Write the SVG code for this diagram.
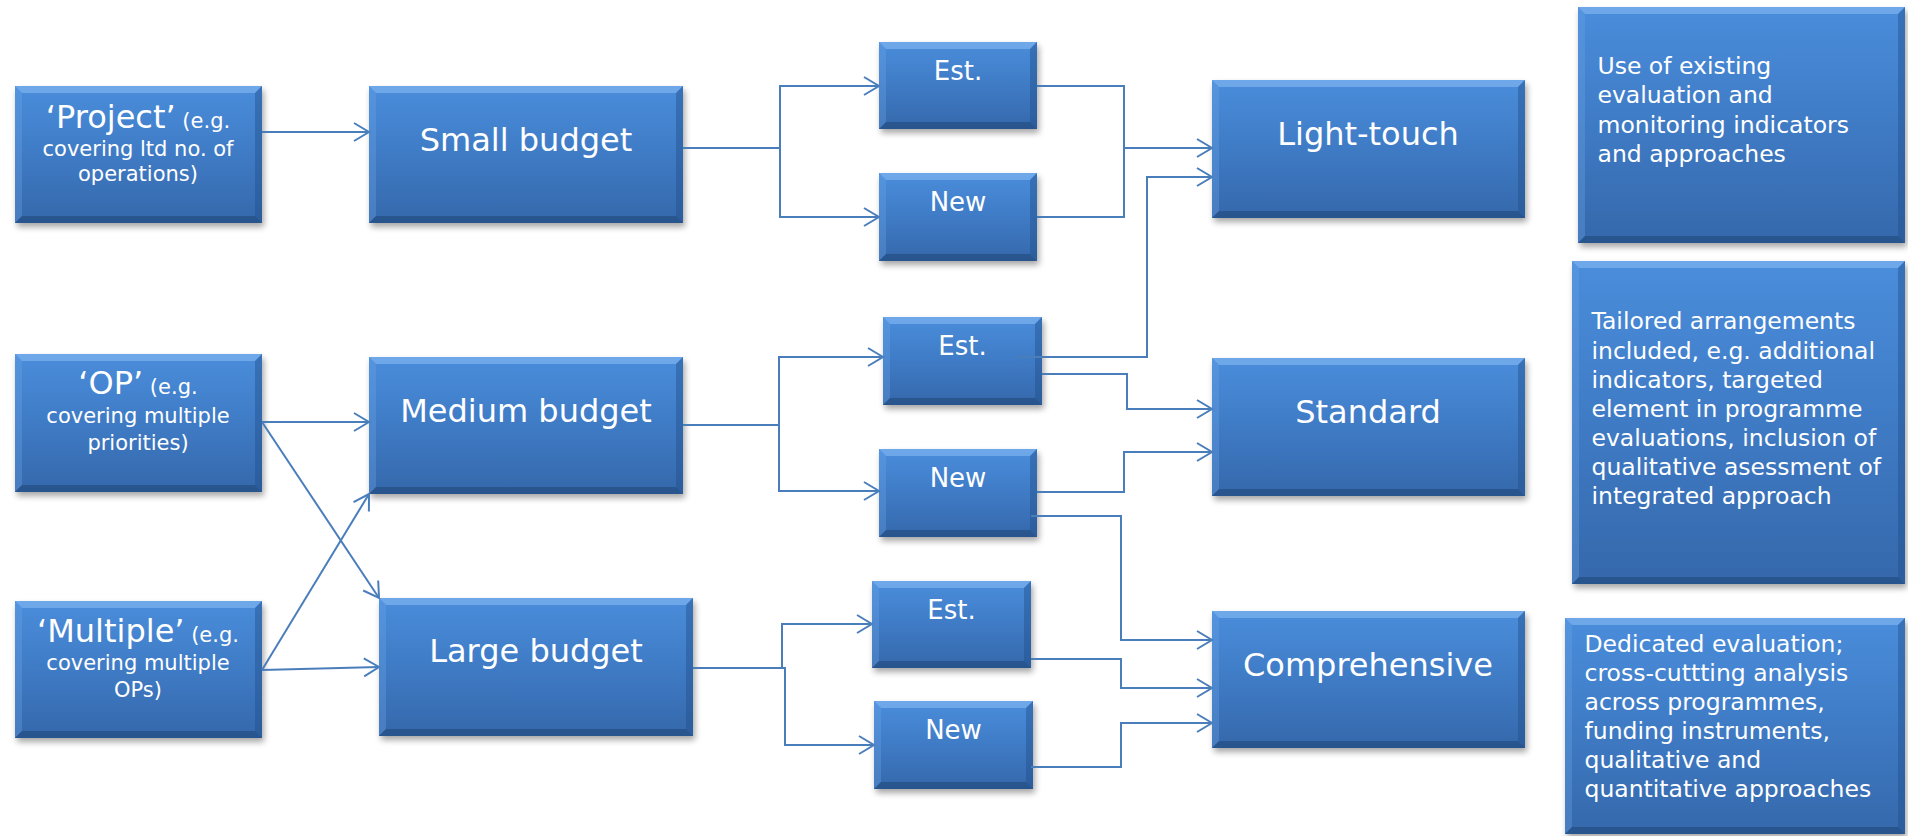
<svg xmlns="http://www.w3.org/2000/svg" width="1908" height="836" viewBox="0 0 1908 836">
<defs>
<linearGradient id="g" x1="0" y1="0" x2="0" y2="1">
<stop offset="0" stop-color="#4a8ddb"/>
<stop offset="0.5" stop-color="#3f7bc5"/>
<stop offset="1" stop-color="#3568ab"/>
</linearGradient>
<filter id="sh" x="-10%" y="-10%" width="120%" height="130%">
<feGaussianBlur stdDeviation="3"/>
</filter>
<marker id="ar" markerUnits="userSpaceOnUse" markerWidth="20" markerHeight="22" refX="16" refY="10" orient="auto">
<path d="M1,1 L16,10 L1,19" fill="none" stroke="#4a7ebb" stroke-width="2"/>
</marker>
</defs>
<style>
.s{fill:#000;opacity:.35;filter:url(#sh)}
.b{fill:url(#g)}
.t{fill:#8cc0f5;opacity:.55}
.l{fill:#6aa3e6;opacity:.35}
.r{fill:#224f8c;opacity:.45}
.m{fill:#1f4577;opacity:.55}
text{font-family:"DejaVu Sans",Verdana,"Liberation Sans",sans-serif;fill:#fff}
.big{font-size:32px;text-anchor:middle}
.sm{font-size:21px;text-anchor:middle}
.mid{font-size:26px;text-anchor:middle}
.desc{font-size:23.5px}
.c{fill:none;stroke:#4a7ebb;stroke-width:2}
.a{marker-end:url(#ar)}
</style>
<rect width="1908" height="836" fill="#fff"/>

<g id="project">
<rect class="s" x="17" y="90" width="247" height="137"/>
<rect class="b" x="15" y="86" width="247" height="137"/>
<polygon class="t" points="15,86 262,86 255,93 22,93"/>
<polygon class="l" points="15,86 22,93 22,216 15,223"/>
<polygon class="r" points="262,86 262,223 255,216 255,93"/>
<polygon class="m" points="15,223 22,216 255,216 262,223"/>
<text class="sm" x="138" y="128"><tspan font-size="32px">‘Project’</tspan> (e.g.</text>
<text class="sm" x="138" y="156">covering ltd no. of</text>
<text class="sm" x="138" y="181">operations)</text>
</g>

<g id="op">
<rect class="s" x="17" y="358" width="247" height="138"/>
<rect class="b" x="15" y="354" width="247" height="138"/>
<polygon class="t" points="15,354 262,354 255,361 22,361"/>
<polygon class="l" points="15,354 22,361 22,485 15,492"/>
<polygon class="r" points="262,354 262,492 255,485 255,361"/>
<polygon class="m" points="15,492 22,485 255,485 262,492"/>
<text class="sm" x="138" y="394"><tspan font-size="32px">‘OP’</tspan> (e.g.</text>
<text class="sm" x="138" y="423">covering multiple</text>
<text class="sm" x="138" y="450">priorities)</text>
</g>

<g id="multiple">
<rect class="s" x="17" y="605" width="247" height="137"/>
<rect class="b" x="15" y="601" width="247" height="137"/>
<polygon class="t" points="15,601 262,601 255,608 22,608"/>
<polygon class="l" points="15,601 22,608 22,731 15,738"/>
<polygon class="r" points="262,601 262,738 255,731 255,608"/>
<polygon class="m" points="15,738 22,731 255,731 262,738"/>
<text class="sm" x="138" y="642"><tspan font-size="32px">‘Multiple’</tspan> (e.g.</text>
<text class="sm" x="138" y="670">covering multiple</text>
<text class="sm" x="138" y="697">OPs)</text>
</g>

<g id="small">
<rect class="s" x="371" y="90" width="314" height="137"/>
<rect class="b" x="369" y="86" width="314" height="137"/>
<polygon class="t" points="369,86 683,86 676,93 376,93"/>
<polygon class="l" points="369,86 376,93 376,216 369,223"/>
<polygon class="r" points="683,86 683,223 676,216 676,93"/>
<polygon class="m" points="369,223 376,216 676,216 683,223"/>
<text class="big" x="526" y="151">Small budget</text>
</g>

<g id="medium">
<rect class="s" x="371" y="361" width="314" height="137"/>
<rect class="b" x="369" y="357" width="314" height="137"/>
<polygon class="t" points="369,357 683,357 676,364 376,364"/>
<polygon class="l" points="369,357 376,364 376,487 369,494"/>
<polygon class="r" points="683,357 683,494 676,487 676,364"/>
<polygon class="m" points="369,494 376,487 676,487 683,494"/>
<text class="big" x="526" y="422">Medium budget</text>
</g>

<g id="large">
<rect class="s" x="381" y="602" width="314" height="138"/>
<rect class="b" x="379" y="598" width="314" height="138"/>
<polygon class="t" points="379,598 693,598 686,605 386,605"/>
<polygon class="l" points="379,598 386,605 386,729 379,736"/>
<polygon class="r" points="693,598 693,736 686,729 686,605"/>
<polygon class="m" points="379,736 386,729 686,729 693,736"/>
<text class="big" x="536" y="662">Large budget</text>
</g>

<g id="est1">
<rect class="s" x="881" y="46" width="158" height="87"/>
<rect class="b" x="879" y="42" width="158" height="87"/>
<polygon class="t" points="879,42 1037,42 1030,49 886,49"/>
<polygon class="l" points="879,42 886,49 886,122 879,129"/>
<polygon class="r" points="1037,42 1037,129 1030,122 1030,49"/>
<polygon class="m" points="879,129 886,122 1030,122 1037,129"/>
<text class="mid" x="958" y="79.5">Est.</text>
</g>

<g id="new1">
<rect class="s" x="881" y="177" width="158" height="88"/>
<rect class="b" x="879" y="173" width="158" height="88"/>
<polygon class="t" points="879,173 1037,173 1030,180 886,180"/>
<polygon class="l" points="879,173 886,180 886,254 879,261"/>
<polygon class="r" points="1037,173 1037,261 1030,254 1030,180"/>
<polygon class="m" points="879,261 886,254 1030,254 1037,261"/>
<text class="mid" x="958" y="211">New</text>
</g>

<g id="est2">
<rect class="s" x="885" y="321" width="159" height="88"/>
<rect class="b" x="883" y="317" width="159" height="88"/>
<polygon class="t" points="883,317 1042,317 1035,324 890,324"/>
<polygon class="l" points="883,317 890,324 890,398 883,405"/>
<polygon class="r" points="1042,317 1042,405 1035,398 1035,324"/>
<polygon class="m" points="883,405 890,398 1035,398 1042,405"/>
<text class="mid" x="962.5" y="355">Est.</text>
</g>

<g id="new2">
<rect class="s" x="881" y="453" width="158" height="88"/>
<rect class="b" x="879" y="449" width="158" height="88"/>
<polygon class="t" points="879,449 1037,449 1030,456 886,456"/>
<polygon class="l" points="879,449 886,456 886,530 879,537"/>
<polygon class="r" points="1037,449 1037,537 1030,530 1030,456"/>
<polygon class="m" points="879,537 886,530 1030,530 1037,537"/>
<text class="mid" x="958" y="486.5">New</text>
</g>

<g id="est3">
<rect class="s" x="874" y="585" width="159" height="87"/>
<rect class="b" x="872" y="581" width="159" height="87"/>
<polygon class="t" points="872,581 1031,581 1024,588 879,588"/>
<polygon class="l" points="872,581 879,588 879,661 872,668"/>
<polygon class="r" points="1031,581 1031,668 1024,661 1024,588"/>
<polygon class="m" points="872,668 879,661 1024,661 1031,668"/>
<text class="mid" x="951.5" y="618.5">Est.</text>
</g>

<g id="new3">
<rect class="s" x="876" y="705" width="159" height="88"/>
<rect class="b" x="874" y="701" width="159" height="88"/>
<polygon class="t" points="874,701 1033,701 1026,708 881,708"/>
<polygon class="l" points="874,701 881,708 881,782 874,789"/>
<polygon class="r" points="1033,701 1033,789 1026,782 1026,708"/>
<polygon class="m" points="874,789 881,782 1026,782 1033,789"/>
<text class="mid" x="953.5" y="738.5">New</text>
</g>

<g id="lighttouch">
<rect class="s" x="1214" y="84" width="313" height="138"/>
<rect class="b" x="1212" y="80" width="313" height="138"/>
<polygon class="t" points="1212,80 1525,80 1518,87 1219,87"/>
<polygon class="l" points="1212,80 1219,87 1219,211 1212,218"/>
<polygon class="r" points="1525,80 1525,218 1518,211 1518,87"/>
<polygon class="m" points="1212,218 1219,211 1518,211 1525,218"/>
<text class="big" x="1368" y="145">Light-touch</text>
</g>

<g id="standard">
<rect class="s" x="1214" y="362" width="313" height="138"/>
<rect class="b" x="1212" y="358" width="313" height="138"/>
<polygon class="t" points="1212,358 1525,358 1518,365 1219,365"/>
<polygon class="l" points="1212,358 1219,365 1219,489 1212,496"/>
<polygon class="r" points="1525,358 1525,496 1518,489 1518,365"/>
<polygon class="m" points="1212,496 1219,489 1518,489 1525,496"/>
<text class="big" x="1368" y="423">Standard</text>
</g>

<g id="comprehensive">
<rect class="s" x="1214" y="615" width="313" height="137"/>
<rect class="b" x="1212" y="611" width="313" height="137"/>
<polygon class="t" points="1212,611 1525,611 1518,618 1219,618"/>
<polygon class="l" points="1212,611 1219,618 1219,741 1212,748"/>
<polygon class="r" points="1525,611 1525,748 1518,741 1518,618"/>
<polygon class="m" points="1212,748 1219,741 1518,741 1525,748"/>
<text class="big" x="1368" y="676">Comprehensive</text>
</g>

<g id="desc-light">
<rect class="s" x="1580" y="11" width="327" height="236"/>
<rect class="b" x="1578" y="7" width="327" height="236"/>
<polygon class="t" points="1578,7 1905,7 1898,14 1585,14"/>
<polygon class="l" points="1578,7 1585,14 1585,236 1578,243"/>
<polygon class="r" points="1905,7 1905,243 1898,236 1898,14"/>
<polygon class="m" points="1578,243 1585,236 1898,236 1905,243"/>
<text class="desc" x="1597.5" y="74">Use of existing</text>
<text class="desc" x="1597.5" y="103.3">evaluation and</text>
<text class="desc" x="1597.5" y="132.7">monitoring indicators</text>
<text class="desc" x="1597.5" y="162">and approaches</text>
</g>

<g id="desc-standard">
<rect class="s" x="1574" y="265" width="333" height="323"/>
<rect class="b" x="1572" y="261" width="333" height="323"/>
<polygon class="t" points="1572,261 1905,261 1898,268 1579,268"/>
<polygon class="l" points="1572,261 1579,268 1579,577 1572,584"/>
<polygon class="r" points="1905,261 1905,584 1898,577 1898,268"/>
<polygon class="m" points="1572,584 1579,577 1898,577 1905,584"/>
<text class="desc" x="1591.5" y="329.3">Tailored arrangements</text>
<text class="desc" x="1591.5" y="358.5">included, e.g. additional</text>
<text class="desc" x="1591.5" y="387.7">indicators, targeted</text>
<text class="desc" x="1591.5" y="416.8">element in programme</text>
<text class="desc" x="1591.5" y="445.8">evaluations, inclusion of</text>
<text class="desc" x="1591.5" y="474.8">qualitative asessment of</text>
<text class="desc" x="1591.5" y="504">integrated approach</text>
</g>

<g id="desc-comprehensive">
<rect class="s" x="1567" y="622" width="340" height="216"/>
<rect class="b" x="1565" y="618" width="340" height="216"/>
<polygon class="t" points="1565,618 1905,618 1898,625 1572,625"/>
<polygon class="l" points="1565,618 1572,625 1572,827 1565,834"/>
<polygon class="r" points="1905,618 1905,834 1898,827 1898,625"/>
<polygon class="m" points="1565,834 1572,827 1898,827 1905,834"/>
<text class="desc" x="1584.5" y="651.7">Dedicated evaluation;</text>
<text class="desc" x="1584.5" y="681">cross-cuttting analysis</text>
<text class="desc" x="1584.5" y="710">across programmes,</text>
<text class="desc" x="1584.5" y="739.2">funding instruments,</text>
<text class="desc" x="1584.5" y="768">qualitative and</text>
<text class="desc" x="1584.5" y="797">quantitative approaches</text>
</g>

<g id="connectors">
<path class="c a" d="M262,132 H369"/>
<path class="c a" d="M262,422 H369"/>
<path class="c a" d="M262,422 L379,598"/>
<path class="c a" d="M262,670 L369,494"/>
<path class="c a" d="M262,670 L379,667"/>
<path class="c a" d="M683,148 H780 V86 H879"/>
<path class="c a" d="M780,148 V217 H879"/>
<path class="c a" d="M683,425 H779 V357 H883"/>
<path class="c a" d="M779,425 V491 H879"/>
<path class="c a" d="M693,668 H782 V624 H872"/>
<path class="c a" d="M782,668 H785 V745 H874"/>
<path class="c a" d="M1037,86 H1124 V148 H1212"/>
<path class="c" d="M1037,217 H1124 V148"/>
<path class="c a" d="M1017,357 H1147 V177 H1212"/>
<path class="c a" d="M1042,374 H1127 V409 H1212"/>
<path class="c a" d="M1037,492 H1124 V452 H1212"/>
<path class="c a" d="M1031,516 H1121 V640 H1212"/>
<path class="c a" d="M1031,659 H1121 V688 H1212"/>
<path class="c a" d="M1031,767 H1121 V723 H1212"/>
</g>
</svg>
